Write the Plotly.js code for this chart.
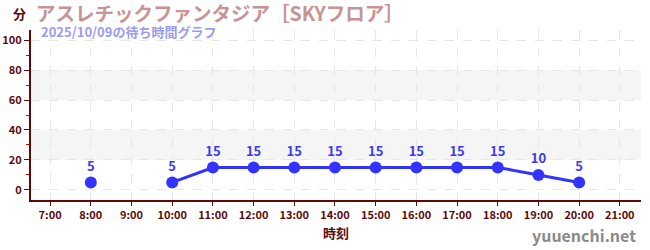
<!DOCTYPE html>
<html><head><meta charset="utf-8">
<script src="https://cdn.plot.ly/plotly-3.0.1.min.js"></script>
<style>html,body{margin:0;padding:0;background:#fff}#c{width:650px;height:250px}</style>
</head><body><div id="c"></div>
<script>
const hours = [8, 9, 10, 11, 12, 13, 14, 15, 16, 17, 18, 19, 20];
const waits = [5, null, 5, 15, 15, 15, 15, 15, 15, 15, 15, 10, 5];
const tickVals = [7,8,9,10,11,12,13,14,15,16,17,18,19,20,21];
const tickText = tickVals.map(h => h + ":00");
const yTicks = [0,20,40,60,80,100];
const bands = [[20,40],[60,80]];
const titleText = "アスレチックファンタジア［SKYフロア］";
const subText = "2025/10/09の待ち時間グラフ";
const font = '"Noto Sans CJK JP", "Noto Sans", sans-serif';
const dark = "#5c0a0a";

const trace = {
  x: hours, y: waits, mode: "lines+markers+text",
  text: waits.map(v => v == null ? "" : String(v)),
  textposition: "top center",
  textfont: {family: font, size: 13, color: "#3a3aee", weight: "bold"},
  line: {color: "#3333ff", width: 3},
  marker: {color: "#3333ff", size: 12},
  connectgaps: false, hoverinfo: "none", cliponaxis: false
};

const shapes = bands.map(b => ({type: "rect", xref: "paper", yref: "y", x0: 0, x1: 1, y0: b[0], y1: b[1],
  fillcolor: "#f5f5f5", line: {width: 0}, layer: "below"}));

const layout = {
  width: 650, height: 250,
  margin: {l: 31, r: 9, t: 30, b: 50},
  paper_bgcolor: "#fff", plot_bgcolor: "#fff",
  showlegend: false,
  shapes: shapes,
  font: {family: font},
  xaxis: {
    range: [6.53, 21.52], tickvals: tickVals, ticktext: tickText,
    showline: true, linecolor: dark, linewidth: 2,
    ticks: "outside", ticklen: 4, tickcolor: dark,
    tickfont: {family: font, size: 11, color: dark, weight: "bold"},
    showgrid: true, gridcolor: "#e6e6e6", griddash: "dash", gridwidth: 1,
    zeroline: false, fixedrange: true,
    title: {text: "時刻", font: {family: font, size: 13, color: dark, weight: "bold"}, standoff: 8}
  },
  yaxis: {
    range: [-6.7, 106.7], tickvals: yTicks,
    showline: true, linecolor: dark, linewidth: 2,
    ticks: "outside", ticklen: 5, tickcolor: dark,
    tickfont: {family: font, size: 11, color: dark, weight: "bold"},
    showgrid: true, gridcolor: "#e6e6e6", griddash: "dash", gridwidth: 1,
    zeroline: false, fixedrange: true,
    minor: {tickvals: [10,30,50,70,90], ticks: "outside", ticklen: 3, tickcolor: "#dd0000", showgrid: false}
  },
  annotations: [
    {text: titleText, xref: "paper", yref: "paper", x: 0.006, y: 1, yanchor: "middle", xanchor: "left", yshift: 18,
      showarrow: false, borderpad: 0, font: {family: font, size: 19.5, color: "#c99393", weight: "bold"}},
    {text: subText, xref: "paper", yref: "paper", x: 0.015, y: 1, yanchor: "top", xanchor: "left", yshift: 9,
      showarrow: false, borderpad: 0, font: {family: font, size: 13, color: "#9b9bef", weight: "bold"}},
    {text: "分", xref: "paper", yref: "paper", x: 0, y: 1, xanchor: "right", yanchor: "bottom", xshift: -3, yshift: 5,
      showarrow: false, font: {family: font, size: 13, color: dark, weight: "bold"}},
    {text: "yuuenchi.net", xref: "paper", yref: "paper", x: 1, y: 0, xanchor: "right", yanchor: "top", yshift: -21, xshift: -3,
      showarrow: false, font: {family: font, size: 16, color: "#8a8a8a", weight: "bold"}}
  ]
};
Plotly.newPlot("c", [trace], layout, {displayModeBar: false, staticPlot: true});
</script></body></html>
